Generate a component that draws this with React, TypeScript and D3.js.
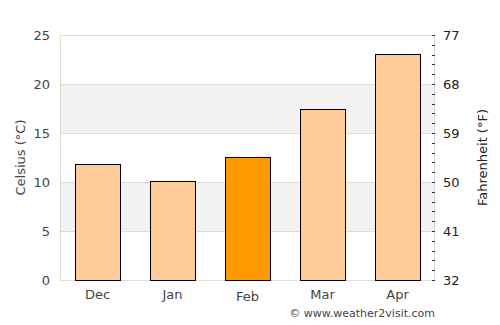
import React from "react";
import * as d3 from "d3";

const months = ["Dec", "Jan", "Feb", "Mar", "Apr"];
const celsius = [11.8, 10.1, 12.6, 17.4, 23.1];
const highlightMonth = "Feb";
const celsiusTicks = [0, 5, 10, 15, 20, 25];
const fahrenheitTicks = [32, 41, 50, 59, 68, 77];

const W = 500;
const H = 325;
const margin = { top: 35, right: 65, bottom: 45, left: 60 };

const App = () => {
  const innerW = W - margin.left - margin.right;
  const innerH = H - margin.top - margin.bottom;

  const x = d3.scaleBand().domain(months).range([0, innerW]).paddingInner(0.4).paddingOuter(0.2);
  const y = d3.scaleLinear().domain([0, 25]).range([innerH, 0]);
  const yF = d3.scaleLinear().domain([32, 77]).range([innerH, 0]);

  // alternating shaded bands (5-10, 15-20)
  const bands = [[5, 10], [15, 20]];
  const minorTicks = d3.range(0, 26, 1);

  const textColor = "#444";
  const font = "DejaVu Sans, sans-serif";

  return (
    <svg width={W} height={H} style={{ position: "absolute", left: 0, top: 0 }} fontFamily={font}>
      <rect width={W} height={H} fill="white" />
      <g transform={`translate(${margin.left},${margin.top})`}>
        {bands.map(([a, b]) => (
          <rect key={a} x={0} width={innerW} y={y(b)} height={y(a) - y(b)} fill="#f2f2f2" />
        ))}
        {celsiusTicks.map(t => (
          <line key={t} x1={0} x2={innerW} y1={y(t) + 0.5} y2={y(t) + 0.5} stroke="#dddddd" />
        ))}
        <line x1={0.5} x2={0.5} y1={0} y2={innerH} stroke="#dddddd" />
        <line x1={innerW - 0.5} x2={innerW - 0.5} y1={0} y2={innerH} stroke="#dddddd" />

        {months.map((m, i) => (
          <rect
            key={m}
            x={Math.round(x(m)!) + 0.5}
            y={Math.round(y(celsius[i])) + 0.5}
            width={Math.round(x.bandwidth())}
            height={innerH - Math.round(y(celsius[i]))}
            fill={m === highlightMonth ? "#ff9900" : "#ffcc99"}
            stroke="black"
            strokeWidth={1}
          />
        ))}

        {/* left axis labels */}
        {celsiusTicks.map(t => (
          <text key={t} x={-10} y={y(t)} dy="0.35em" textAnchor="end" fontSize={13} fill={textColor}>
            {t}
          </text>
        ))}

        {/* right axis minor ticks */}
        {minorTicks.map(t => (
          <line
            key={t}
            x1={innerW - 3}
            x2={innerW}
            y1={Math.round(y(t)) + 0.5}
            y2={Math.round(y(t)) + 0.5}
            stroke="#333"
          />
        ))}
        {fahrenheitTicks.map(t => (
          <text key={t} x={innerW + 8} y={yF(t)} dy="0.35em" fontSize={13} fill="#222">
            {t}
          </text>
        ))}

        {/* x labels */}
        {months.map(m => (
          <text
            key={m}
            x={x(m)! + x.bandwidth() / 2}
            y={innerH + (m === highlightMonth ? 21 : 19)}
            textAnchor="middle"
            fontSize={13}
            fill={textColor}
          >
            {m}
          </text>
        ))}

        <text
          transform={`translate(-40,${innerH / 2}) rotate(-90)`}
          textAnchor="middle"
          dy="0.35em"
          fontSize={13}
          fill={textColor}
        >
          Celsius (°C)
        </text>
        <text
          transform={`translate(${innerW + 47},${innerH / 2}) rotate(-90)`}
          textAnchor="middle"
          dy="0.35em"
          fontSize={13}
          fill="#222"
        >
          Fahrenheit (°F)
        </text>
        <text x={innerW} y={innerH + 37} textAnchor="end" fontSize={11} fill={textColor}>
          © www.weather2visit.com
        </text>
      </g>
    </svg>
  );
};

export default App;
